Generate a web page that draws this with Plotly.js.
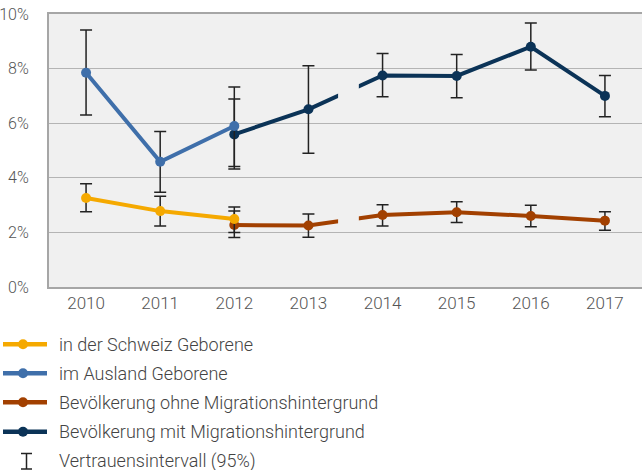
<!DOCTYPE html>
<html><head><meta charset="utf-8">
<script src="https://cdn.plot.ly/plotly-3.0.1.min.js"></script>
<style>html,body{margin:0;padding:0;background:#fff}#chart{width:642px;height:470px}</style>
</head><body><div id="chart"></div>
<script>
var years = ['2010','2011','2012','2013','2014','2015','2016','2017'];
var yTicks = [0,2,4,6,8,10];
var yTickLabels = ['0%','2%','4%','6%','8%','10%'];

var chYears = ['2010','2011','2012'];
var chValue = [3.26, 2.78, 2.49];
var chUpper = [3.78, 3.32, 2.93];
var chLower = [2.76, 2.23, 2.00];

var ausYears = ['2010','2011','2012'];
var ausValue = [7.85, 4.59, 5.90];
var ausUpper = [9.41, 5.70, 7.33];
var ausLower = [6.30, 3.47, 4.41];

var ohneYears = ['2012','2013','2014','2015','2016','2017'];
var ohneValue = [2.27, 2.25, 2.64, 2.74, 2.60, 2.43];
var ohneUpper = [2.78, 2.67, 3.01, 3.12, 2.99, 2.76];
var ohneLower = [1.81, 1.82, 2.23, 2.36, 2.21, 2.08];

var mitYears = ['2012','2013','2014','2015','2016','2017'];
var mitValue = [5.59, 6.51, 7.75, 7.73, 8.80, 7.00];
var mitUpper = [6.89, 8.10, 8.55, 8.52, 9.67, 7.75];
var mitLower = [4.32, 4.90, 6.97, 6.93, 7.95, 6.24];

var seriesNames = ['in der Schweiz Geborene','im Ausland Geborene','Bevölkerung ohne Migrationshintergrund','Bevölkerung mit Migrationshintergrund'];
var ciLabel = 'Vertrauensintervall (95%)';
var colors = ['#F5A900','#3F6FAA','#A24000','#0B3357'];

function mk(x, v, up, lo, color, name){
  return {
    type:'scatter', mode:'lines+markers', x:x, y:v, name:name, showlegend:false,
    line:{color:color, width:4}, marker:{color:color, size:10},
    error_y:{type:'data', symmetric:false,
      array: up.map(function(u,i){return u - v[i];}),
      arrayminus: lo.map(function(l,i){return v[i] - l;}),
      color:'#222', thickness:1.5, width:6},
    hoverinfo:'x+y'
  };
}
var data = [
  mk(mitYears, mitValue, mitUpper, mitLower, colors[3], seriesNames[3]),
  mk(ohneYears, ohneValue, ohneUpper, ohneLower, colors[2], seriesNames[2]),
  mk(ausYears, ausValue, ausUpper, ausLower, colors[1], seriesNames[1]),
  mk(chYears, chValue, chUpper, chLower, colors[0], seriesNames[0])
];

var shapes = [
  {type:'rect', layer:'above', xref:'x', yref:'y', x0:3.4, x1:3.68, y0:6.7, y1:7.6, fillcolor:'#f0f0f0', line:{width:0}},
  {type:'rect', layer:'above', xref:'x', yref:'y', x0:3.4, x1:3.68, y0:2.25, y1:2.75, fillcolor:'#f0f0f0', line:{width:0}}
];
var annotations = [];
var legY = [344.3, 373.3, 402.3, 431.7];
var H = 470, W = 642;
var mL = 49, mR = 0, mT = 14, mB = 183;
var plotH = H - mT - mB, plotW = W - mL - mR;
function px2x(p){ return (p - mL) / plotW; }
function px2y(p){ return (H - mB - p) / plotH; }
var legFont = {family:'Roboto', size:18, color:'#444', weight:300};
legY.forEach(function(y, i){
  shapes.push({type:'line', xref:'paper', yref:'paper', x0:px2x(3), x1:px2x(47), y0:px2y(y), y1:px2y(y),
    line:{color:colors[i], width:4.5}});
  shapes.push({type:'circle', xref:'paper', yref:'paper', xsizemode:'pixel', ysizemode:'pixel',
    xanchor:px2x(23), yanchor:px2y(y), x0:-5, x1:5, y0:-5, y1:5, fillcolor:colors[i], line:{width:0}});
  annotations.push({xref:'paper', yref:'paper', x:px2x(58), y:px2y(y), xanchor:'left', yanchor:'middle',
    text:seriesNames[i], showarrow:false, font:legFont, borderpad:0});
});
var ciY = 460.5;
shapes.push({type:'line', xref:'paper', yref:'paper', x0:px2x(26.5), x1:px2x(26.5), y0:px2y(453.5), y1:px2y(469), line:{color:'#222', width:1.5}});
shapes.push({type:'line', xref:'paper', yref:'paper', x0:px2x(21), x1:px2x(32), y0:px2y(453.5), y1:px2y(453.5), line:{color:'#222', width:1.5}});
shapes.push({type:'line', xref:'paper', yref:'paper', x0:px2x(21), x1:px2x(32), y0:px2y(469), y1:px2y(469), line:{color:'#222', width:1.5}});
annotations.push({xref:'paper', yref:'paper', x:px2x(58), y:px2y(ciY), xanchor:'left', yanchor:'middle',
  text:ciLabel, showarrow:false, font:legFont, borderpad:0});

var xTickFont = {family:'Roboto', size:17, color:'#555', weight:300};
var yTickFont = {family:'Roboto', size:16, color:'#555', weight:300};
var layout = {
  width:642, height:470,
  margin:{l:mL, r:mR, t:mT, b:mB},
  paper_bgcolor:'#ffffff', plot_bgcolor:'#f0f0f0',
  font:{family:'Roboto', size:15, color:'#555'},
  showlegend:false,
  xaxis:{type:'category', categoryorder:'array', categoryarray:years, range:[-0.5,7.5],
    showline:true, linecolor:'#a6a6a6', linewidth:2, mirror:true, showgrid:false, zeroline:false,
    ticks:'', tickfont:xTickFont, fixedrange:true},
  yaxis:{range:[0,10], tickmode:'array', tickvals:yTicks, ticktext:yTickLabels,
    showline:true, linecolor:'#a6a6a6', linewidth:2, showgrid:true, gridcolor:'#b4b4b4', gridwidth:1,
    zeroline:false, ticks:'', ticklabelstandoff:15, tickfont:yTickFont, fixedrange:true},
  shapes:shapes, annotations:annotations
};
Plotly.newPlot('chart', data, layout, {displayModeBar:false, staticPlot:true});
</script>
</body></html>
